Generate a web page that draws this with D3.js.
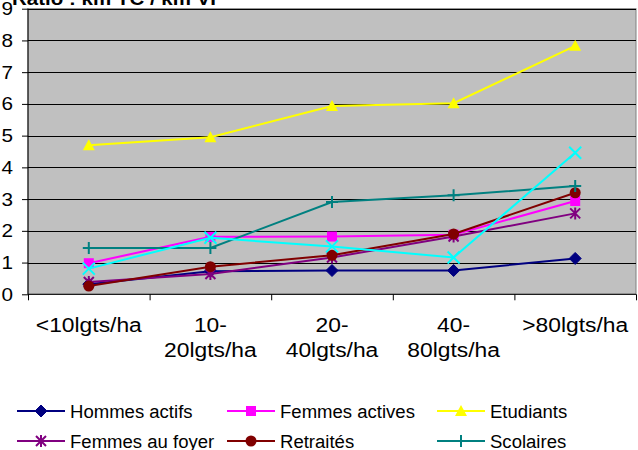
<!DOCTYPE html>
<html>
<head>
<meta charset="utf-8">
<script src="https://cdn.jsdelivr.net/npm/d3@7"></script>
<style>
  html, body { margin: 0; padding: 0; background: #fff; }
  svg { display: block; font-family: "Liberation Sans", Arial, sans-serif; }
</style>
</head>
<body>
<svg id="chart" width="638" height="450"></svg>
<script>
// Ratio km TC / km VP by housing density, per population group
const categories = ["<10lgts/ha", "10-20lgts/ha", "20-40lgts/ha", "40-80lgts/ha", ">80lgts/ha"];
const hommesActifs  = [0.32, 0.73, 0.75, 0.75, 1.13];
const femmesActives = [0.98, 1.81, 1.82, 1.88, 2.94];
const etudiants     = [4.70, 4.95, 5.93, 6.02, 7.83];
const femmesAuFoyer = [0.39, 0.64, 1.16, 1.82, 2.55];
const retraites     = [0.26, 0.87, 1.23, 1.90, 3.20];
const scolaires     = [1.46, 1.46, 2.91, 3.12, 3.41];
const ensemble      = [0.81, 1.78, 1.51, 1.16, 4.46];
const seriesNames = ["Hommes actifs", "Femmes actives", "Etudiants", "Femmes au foyer", "Retraités", "Scolaires", "Ensemble"];
const yTicks = [0, 1, 2, 3, 4, 5, 6, 7, 8, 9];
const titleText = "Ratio : km TC / km VP";

const seriesValues = [hommesActifs, femmesActives, etudiants, femmesAuFoyer, retraites, scolaires, ensemble];
const seriesStyle = [
  { color: "#000080", marker: "diamond" },
  { color: "#FF00FF", marker: "square" },
  { color: "#FFFF00", marker: "triangle" },
  { color: "#800080", marker: "star" },
  { color: "#800000", marker: "circle" },
  { color: "#008080", marker: "plus" },
  { color: "#00FFFF", marker: "cross" }
];
const series = seriesNames.map((name, i) => ({ name, values: seriesValues[i], ...seriesStyle[i] }));

const svg = d3.select("#chart");
const plot = { left: 28, right: 636, top: 8.7, bottom: 294.3 };

const x = d3.scaleBand().domain(categories).range([plot.left, plot.right]).paddingInner(0).paddingOuter(0);
const xBound = d3.scaleLinear().domain([0, categories.length]).range([plot.left, plot.right]);
const y = d3.scaleLinear().domain([0, 9]).range([plot.bottom, plot.top]);
const cx = c => x(c) + x.bandwidth() / 2;

// stretched text helper
function label(g, txt, px, py, opts) {
  return g.append("text")
    .attr("transform", `translate(${px},${py}) scale(${opts.sx || 1},1)`)
    .attr("text-anchor", opts.anchor || "start")
    .style("font-size", opts.size + "px")
    .style("font-weight", opts.weight || "normal")
    .attr("fill", "#000")
    .text(txt);
}

// plot background
svg.append("rect")
  .attr("x", plot.left).attr("y", plot.top)
  .attr("width", plot.right - plot.left).attr("height", plot.bottom - plot.top)
  .attr("fill", "#C0C0C0").attr("stroke", "#808080").attr("stroke-width", 1);

// gridlines
svg.append("g").selectAll("line").data(yTicks.filter(t => t > 0)).join("line")
  .attr("x1", plot.left).attr("x2", plot.right)
  .attr("y1", d => Math.round(y(d)) + 0.5).attr("y2", d => Math.round(y(d)) + 0.5)
  .attr("stroke", "#000").attr("stroke-width", 1);

// y axis
const yAxis = svg.append("g").attr("transform", `translate(${plot.left},0)`)
  .call(d3.axisLeft(y).tickValues(yTicks).tickSize(6).tickFormat(""));
yAxis.selectAll("path, line").attr("stroke", "#000");
yAxis.select(".domain").attr("d", `M0,${plot.top}V${plot.bottom}`);
yTicks.forEach(t => label(svg, String(t), 13, y(t) + 6.5, { size: 18, sx: 1.15, anchor: "end" }));

// x axis with ticks on category boundaries
const xAxis = svg.append("g").attr("transform", `translate(0,${plot.bottom})`)
  .call(d3.axisBottom(xBound).ticks(categories.length).tickSize(6).tickFormat(""));
xAxis.selectAll("path, line").attr("stroke", "#000");
xAxis.select(".domain").attr("d", `M${plot.left},0H${plot.right}`);
categories.forEach(c => {
  const k = c.indexOf("-");
  const lines = k > 0 ? [c.slice(0, k + 1), c.slice(k + 1)] : [c];
  lines.forEach((ln, j) => label(svg, ln, cx(c), 332 + j * 25, { size: 19.5, sx: 1.17, anchor: "middle" }));
});

// title
label(svg, titleText, 12, 5, { size: 18, sx: 1.14, weight: "bold" });

// marker drawing
function drawMarker(g, type, color, px, py) {
  const m = g.append("g").attr("transform", `translate(${px},${py})`);
  switch (type) {
    case "diamond":
      m.append("path").attr("d", "M0,-6L6,0L0,6L-6,0Z").attr("fill", color).attr("stroke", color);
      break;
    case "square":
      m.append("rect").attr("x", -5).attr("y", -5).attr("width", 10).attr("height", 10).attr("fill", color);
      break;
    case "triangle":
      m.append("path").attr("d", "M0,-6L6,5L-6,5Z").attr("fill", color);
      break;
    case "circle":
      m.append("circle").attr("r", 5.5).attr("fill", color);
      break;
    case "star":
      m.append("path").attr("d", "M0,-6V6M-5,-5L5,5M-5,5L5,-5").attr("stroke", color).attr("stroke-width", 2).attr("fill", "none");
      break;
    case "plus":
      m.append("path").attr("d", "M0,-6V6M-6,0H6").attr("stroke", color).attr("stroke-width", 2).attr("fill", "none");
      break;
    case "cross":
      m.append("path").attr("d", "M-6,-6L6,6M-6,6L6,-6").attr("stroke", color).attr("stroke-width", 2).attr("fill", "none");
      break;
  }
}

// series lines and markers
const line = d3.line().x((d, i) => cx(categories[i])).y(d => y(d));
const gSeries = svg.append("g");
series.forEach(s => {
  const g = gSeries.append("g");
  g.append("path").datum(s.values).attr("d", line)
    .attr("fill", "none").attr("stroke", s.color).attr("stroke-width", 2);
  s.values.forEach((v, i) => drawMarker(g, s.marker, s.color, cx(categories[i]), y(v)));
});

// legend (three columns, two rows)
const legendCols = [17, 227, 437];
const legendRows = [411, 441];
const legend = svg.append("g");
series.slice(0, 6).forEach((s, i) => {
  const lx = legendCols[i % 3], ly = legendRows[Math.floor(i / 3)];
  legend.append("line").attr("x1", lx).attr("x2", lx + 48).attr("y1", ly).attr("y2", ly)
    .attr("stroke", s.color).attr("stroke-width", 2);
  drawMarker(legend, s.marker, s.color, lx + 24, ly);
  label(legend, s.name, lx + 53, ly + 6.5, { size: 18, sx: 1.03 });
});
</script>
</body>
</html>
